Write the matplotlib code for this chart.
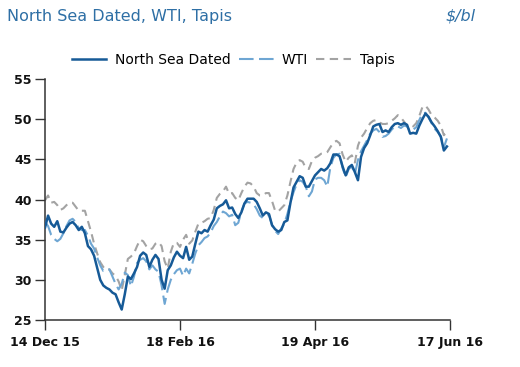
import matplotlib
matplotlib.use("Agg")
import matplotlib.pyplot as plt
from matplotlib.lines import Line2D

# ---- data (x = trading-day index) ----
tick_labels = ["14 Dec 15", "18 Feb 16", "19 Apr 16", "17 Jun 16"]
tick_index = [0, 44, 88, 132]

north_sea_dated = [
    36.5, 38.0, 37.0, 36.6, 37.3, 36.0, 35.9, 36.5, 37.0, 37.2,
    36.8, 36.2, 36.6, 35.8, 34.2, 33.8, 33.0, 31.5, 30.0, 29.3,
    29.0, 28.8, 28.4, 28.2, 27.2, 26.3, 28.2, 30.4, 30.1, 30.8,
    31.6, 33.0, 33.4, 33.1, 31.6, 32.5, 33.1, 32.6, 30.0, 28.9,
    31.2, 31.8, 32.8, 33.5, 33.0, 32.7, 34.1, 32.5, 32.9, 34.5,
    36.0, 35.8, 36.2, 36.0, 36.8, 37.5, 38.9, 39.2, 39.4, 39.9,
    38.9, 39.0, 38.2, 37.7, 38.4, 39.5, 40.1, 40.1, 40.1, 39.7,
    38.9, 38.0, 38.4, 38.2, 36.8, 36.3, 36.0, 36.2, 37.2, 37.4,
    39.6, 41.5, 42.2, 42.9, 42.7, 41.6, 41.6, 42.3, 43.0, 43.4,
    43.8, 43.6, 43.9, 44.5, 45.6, 45.6, 45.4, 44.1, 43.0, 44.0,
    44.3, 43.4, 42.4, 45.3, 46.4, 47.0, 48.0, 49.1, 49.3, 49.4,
    48.4, 48.6, 48.4, 49.0, 49.4, 49.5, 49.3, 49.5, 49.3, 48.2,
    48.3, 48.2, 49.2, 50.0, 50.7, 50.3, 49.6, 49.1, 48.5, 47.8,
    46.1, 46.6,
]

wti = [
    37.2, 36.7, 35.6, 35.1, 34.8, 35.1, 35.8, 36.7, 37.4, 37.6,
    37.2, 36.4, 36.2, 36.2, 35.5, 34.5, 33.9, 32.8, 31.8, 31.1,
    31.2, 31.3, 30.4, 29.5, 28.8, 29.5, 30.9, 30.6, 29.2, 30.4,
    32.1, 32.5, 32.7, 32.3, 31.3, 31.8, 31.3, 31.0, 29.3, 27.0,
    28.8, 30.0, 30.7, 31.2, 31.4, 30.5, 31.4, 30.8, 32.0, 33.3,
    34.3, 34.7, 35.2, 35.4, 35.9, 36.7, 37.2, 37.9, 38.5, 38.3,
    37.9, 38.1, 36.8, 37.1, 38.5, 39.5, 39.7, 39.6, 39.4, 38.8,
    38.0, 37.7, 37.9, 38.1, 36.8, 36.1, 35.7, 36.4, 37.0, 38.2,
    39.7, 40.9, 41.9, 42.4, 42.2, 41.6, 40.4, 41.0, 42.5, 42.7,
    42.7, 42.4, 41.6, 44.0, 45.2, 45.6, 45.7, 43.9, 42.8, 43.8,
    44.1, 43.2, 44.9, 46.0, 46.7, 47.4, 48.2, 48.6, 48.8, 48.4,
    47.8, 47.9, 48.2, 48.7, 49.1, 49.1, 48.9, 49.2, 49.1, 48.5,
    48.7, 49.0, 49.9, 50.7, 50.8, 50.2, 49.5, 48.8, 48.4, 47.9,
    46.5, 47.6,
]

tapis = [
    39.9, 40.5, 39.6, 39.7, 39.3, 38.7, 38.9, 39.3, 39.6, 39.6,
    39.1, 38.6, 38.6, 38.6, 37.3, 36.0, 34.5, 33.3, 32.2, 31.6,
    31.2, 31.3, 30.8, 30.5, 29.8, 28.7, 30.6, 32.6, 32.9, 33.3,
    34.2, 35.0, 34.8, 34.2, 33.8, 33.9, 34.5, 34.7, 34.2, 32.3,
    31.4, 33.5, 34.6, 34.6, 34.1, 35.0, 35.6, 34.5, 34.9, 36.0,
    37.0, 37.1, 37.3, 37.6, 37.7, 38.7, 40.2, 40.7, 41.0, 41.6,
    40.7, 40.8, 40.2, 39.9, 40.8, 41.6, 42.1, 42.0, 41.6, 40.8,
    40.5, 40.5, 40.8, 40.8, 39.8, 38.6, 38.5, 38.9, 39.3, 40.5,
    42.2, 43.8, 44.6, 44.9, 44.7, 43.9, 43.8, 44.8, 45.2, 45.4,
    45.7, 45.7, 45.9, 46.5, 47.1, 47.3, 47.0, 45.6, 44.7, 45.2,
    45.5, 44.6, 46.7, 47.7, 48.2, 48.9, 49.5, 49.8, 49.9, 49.6,
    49.4, 49.4, 49.5, 49.8, 50.1, 50.5, 50.2, 49.7, 49.2, 49.3,
    49.1, 49.5, 50.4, 51.5, 51.7, 51.2, 50.5, 50.2, 49.8, 49.2,
    48.0, 48.4,
]

y_ticks = [25, 30, 35, 40, 45, 50, 55]

# ---- styling ----
FONT = "DejaVu Sans"
plt.rcParams["font.family"] = [FONT]

c_dated = "#165a97"
c_wti = "#6ea6d3"
c_tapis = "#a3a3a3"
c_title = "#2e6fa5"
c_axis = "#333333"

fig = plt.figure(figsize=(5.2, 3.67), dpi=100)
ax = fig.add_axes([45 / 520, 47 / 367, 405 / 520, 241 / 367])

x = list(range(len(north_sea_dated)))
ax.plot(x, tapis, color=c_tapis, lw=1.5, dashes=(4, 2.6), zorder=2)
ax.plot(x, wti, color=c_wti, lw=1.5, dashes=(7, 2.6), zorder=3)
ax.plot(x, north_sea_dated, color=c_dated, lw=1.8, zorder=4)

ax.set_xlim(0, 132)
ax.set_ylim(25, 55)
ax.set_xticks(tick_index)
ax.set_xticklabels(tick_labels)
ax.set_yticks(y_ticks)

for s in ["top", "right"]:
    ax.spines[s].set_visible(False)
for s in ["left", "bottom"]:
    ax.spines[s].set_color(c_axis)
    ax.spines[s].set_linewidth(1.1)

ax.tick_params(axis="both", direction="out", length=7.5, width=1.0,
               color=c_axis, labelsize=9, labelcolor="#111111")
ax.tick_params(axis="x", pad=4)
ax.tick_params(axis="y", pad=2)
for lab in ax.get_xticklabels() + ax.get_yticklabels():
    lab.set_fontweight("bold")

# title and unit
fig.text(7 / 520, 1 - 16 / 367, "North Sea Dated, WTI, Tapis", color=c_title,
         fontsize=11.5, ha="left", va="center")
fig.text(476 / 520, 1 - 16 / 367, "$/bl", color=c_title, fontsize=11.5,
         fontstyle="italic", ha="right", va="center")

# legend
handles = [
    Line2D([], [], color=c_dated, lw=1.8),
    Line2D([], [], color=c_wti, lw=1.5, dashes=(7, 2.6)),
    Line2D([], [], color=c_tapis, lw=1.5, dashes=(4, 2.6)),
]
fig.legend(handles, ["North Sea Dated", "WTI", "Tapis"], ncol=3,
           loc="center", bbox_to_anchor=(233 / 520, 1 - 60 / 367),
           frameon=False, fontsize=10, handlelength=2.5, handletextpad=0.6,
           columnspacing=0.6, borderpad=0)

fig.savefig("out.png", dpi=100)
